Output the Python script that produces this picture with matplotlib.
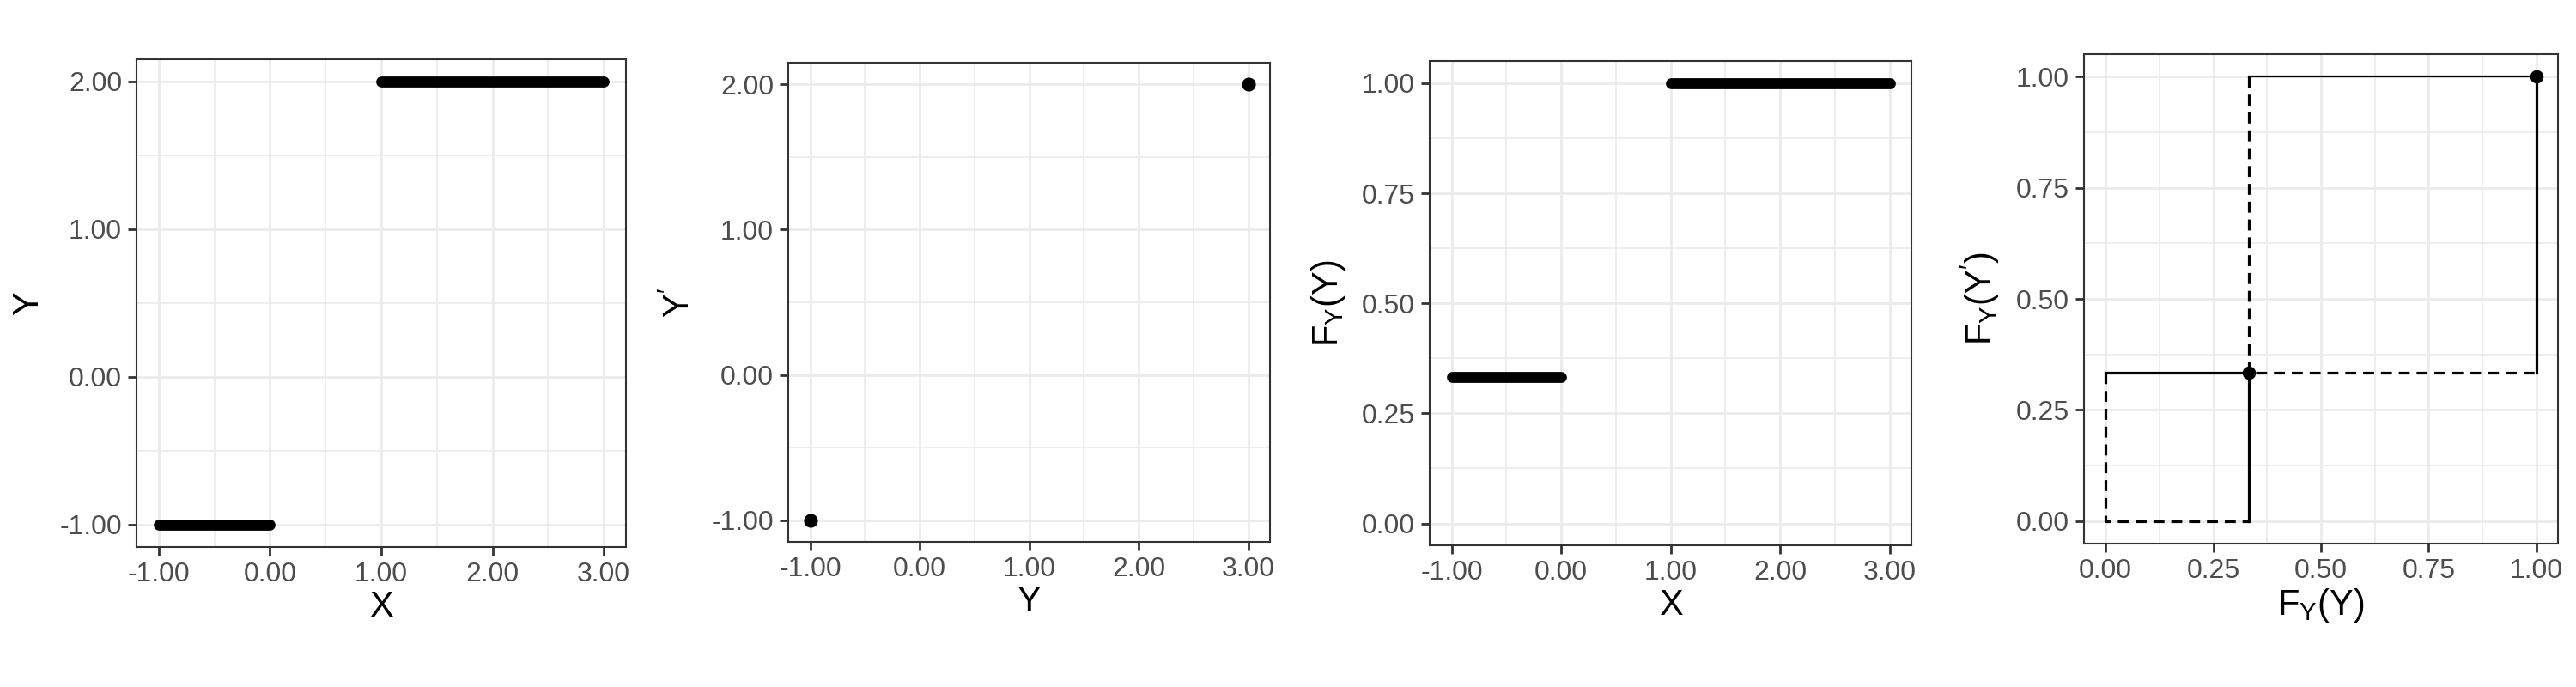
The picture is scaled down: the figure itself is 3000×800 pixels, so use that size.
import numpy as np
import matplotlib
matplotlib.use("Agg")
import matplotlib.pyplot as plt
from matplotlib.ticker import MultipleLocator, FormatStrFormatter

plt.rcParams['font.family'] = ['Liberation Sans', 'DejaVu Sans']
plt.rcParams['mathtext.fontset'] = 'custom'
plt.rcParams['mathtext.rm'] = 'Liberation Sans'
plt.rcParams['mathtext.it'] = 'Liberation Sans'

# panel 1 / 3: dense points along X ranges (drawn as segments)
x_ranges = [(-1.0, 0.0), (1.0, 3.0)]
y_levels = [-1.0, 2.0]
fy_levels = [1 / 3, 1.0]

# panel 2: Y vs Y'
y_vals = [-1.0, 3.0]
yprime_vals = [-1.0, 2.0]

# panel 4: F_Y(Y) vs F_Y(Y')
solid_paths = [([0, 1 / 3, 1 / 3], [1 / 3, 1 / 3, 0]),
               ([1, 1], [1 / 3, 1])]
thin_paths = [([1 / 3, 1], [1, 1])]
dashed_paths = [([0, 0, 1 / 3], [1 / 3, 0, 0]),
                ([1 / 3, 1 / 3, 1], [1, 1 / 3, 1 / 3])]
pt_x = [1 / 3, 1.0]
pt_y = [1 / 3, 1.0]

GRID = '#ebebeb'
DARK = '#333333'
TICK_FS = 11.5
LAB_FS = 15


def style(ax, xmaj, ymaj, xlim, ylim):
    ax.set_xlim(*xlim)
    ax.set_ylim(*ylim)
    ax.xaxis.set_major_locator(MultipleLocator(xmaj))
    ax.xaxis.set_minor_locator(MultipleLocator(xmaj / 2))
    ax.yaxis.set_major_locator(MultipleLocator(ymaj))
    ax.yaxis.set_minor_locator(MultipleLocator(ymaj / 2))
    ax.xaxis.set_major_formatter(FormatStrFormatter('%.2f'))
    ax.yaxis.set_major_formatter(FormatStrFormatter('%.2f'))
    ax.grid(which='major', color=GRID, lw=1.0)
    ax.grid(which='minor', color=GRID, lw=0.6)
    ax.set_axisbelow(True)
    ax.tick_params(which='major', direction='out', length=3.6, width=1.0,
                   color=DARK, labelsize=TICK_FS, labelcolor='#4d4d4d', pad=2.5)
    ax.tick_params(which='minor', length=0)
    for s in ax.spines.values():
        s.set_color(DARK)
        s.set_linewidth(0.75)


fig = plt.figure(figsize=(15, 4), dpi=200)
ax1 = fig.add_axes([0.053, 0.204, 0.190, 0.710])
ax2 = fig.add_axes([0.306, 0.211, 0.187, 0.698])
ax3 = fig.add_axes([0.555, 0.206, 0.187, 0.705])
ax4 = fig.add_axes([0.809, 0.209, 0.184, 0.712])

# Panel 1
for (a, b), lv in zip(x_ranges, y_levels):
    ax1.plot([a, b], [lv, lv], color='black', lw=4.6, solid_capstyle='round')
style(ax1, 1, 1, (-1.2, 3.2), (-1.15, 2.15))
ax1.set_xlabel('X', fontsize=LAB_FS, labelpad=1)
ax1.set_ylabel('Y', fontsize=LAB_FS, labelpad=6)

# Panel 2
ax2.plot(y_vals, yprime_vals, 'o', color='black', ms=4.8, ls='none')
style(ax2, 1, 1, (-1.2, 3.2), (-1.15, 2.15))
ax2.set_xlabel('Y', fontsize=LAB_FS, labelpad=1)
ax2.set_ylabel(r"$\mathrm{Y}^{\prime}$", fontsize=LAB_FS, labelpad=6)

# Panel 3
for (a, b), lv in zip(x_ranges, fy_levels):
    ax3.plot([a, b], [lv, lv], color='black', lw=4.6, solid_capstyle='round')
style(ax3, 1, 0.25, (-1.2, 3.2), (-0.05, 1.05))
ax3.set_xlabel('X', fontsize=LAB_FS, labelpad=1)
ax3.set_ylabel(r"$\mathrm{F_Y(Y)}$", fontsize=LAB_FS, labelpad=6)

# Panel 4
for xs, ys in solid_paths:
    ax4.plot(xs, ys, color='black', lw=1.15)
for xs, ys in thin_paths:
    ax4.plot(xs, ys, color='black', lw=0.8)
for xs, ys in dashed_paths:
    ax4.plot(xs, ys, color='black', lw=1.15, ls=(0, (4, 2.5)))
ax4.plot(pt_x, pt_y, 'o', color='black', ms=4.6, ls='none')
style(ax4, 0.25, 0.25, (-0.05, 1.05), (-0.05, 1.05))
ax4.set_xlabel(r"$\mathrm{F_Y(Y)}$", fontsize=LAB_FS, labelpad=1)
ax4.set_ylabel(r"$\mathrm{F_Y(Y^{\prime})}$", fontsize=LAB_FS, labelpad=6)

fig.savefig('out.png', dpi=200, facecolor='white')
